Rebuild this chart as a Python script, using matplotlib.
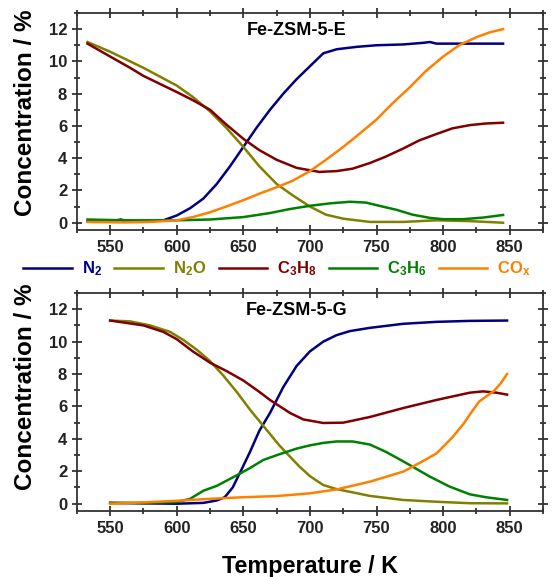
import matplotlib
matplotlib.use('Agg')
import matplotlib.pyplot as plt
from matplotlib.ticker import MultipleLocator

plt.rcParams['font.family'] = 'Liberation Sans'
plt.rcParams['font.weight'] = 'bold'
plt.rcParams['mathtext.fontset'] = 'custom'
plt.rcParams['mathtext.rm'] = 'Liberation Sans:bold'
plt.rcParams['mathtext.bf'] = 'Liberation Sans:bold'
plt.rcParams['mathtext.default'] = 'bf'

# ---- Fe-ZSM-5-E (top panel) ----
e_n2_T = [533, 545, 555, 558, 562, 580, 590, 600, 610, 620, 630, 640, 650, 660, 670, 680, 690, 700,
          710, 720, 735, 750, 770, 785, 790, 795, 810, 830, 845]
e_n2 = [0.1, 0.1, 0.15, 0.2, 0.1, 0.1, 0.15, 0.45, 0.9, 1.5, 2.4, 3.5, 4.7, 5.9, 7.0, 8.0, 8.9, 9.7,
        10.5, 10.75, 10.9, 11.0, 11.05, 11.15, 11.2, 11.1, 11.1, 11.1, 11.1]

e_n2o_T = [533, 550, 575, 600, 612, 625, 637, 650, 662, 675, 687, 700, 712, 725, 745, 770, 795, 820, 845]
e_n2o = [11.2, 10.6, 9.6, 8.5, 7.8, 6.9, 5.9, 4.7, 3.5, 2.4, 1.7, 1.0, 0.5, 0.25, 0.05, 0.05, 0.15, 0.1, 0.0]

e_c3h8_T = [533, 550, 565, 575, 590, 600, 612, 625, 637, 650, 662, 675, 690, 707, 720, 732, 745, 757,
            770, 782, 795, 807, 820, 832, 845]
e_c3h8 = [11.1, 10.3, 9.6, 9.1, 8.5, 8.1, 7.6, 7.0, 6.1, 5.2, 4.5, 3.9, 3.4, 3.15, 3.2, 3.35, 3.7, 4.1,
          4.6, 5.1, 5.5, 5.85, 6.05, 6.15, 6.2]

e_c3h6_T = [533, 560, 600, 625, 650, 670, 685, 700, 715, 730, 742, 752, 765, 777, 790, 800, 815, 830, 845]
e_c3h6 = [0.2, 0.15, 0.15, 0.2, 0.35, 0.6, 0.85, 1.05, 1.2, 1.3, 1.25, 1.05, 0.8, 0.5, 0.3, 0.22, 0.22, 0.32, 0.48]

e_cox_T = [533, 560, 580, 600, 612, 625, 637, 650, 662, 675, 687, 700, 712, 725, 737, 750, 762, 775,
           787, 800, 812, 825, 835, 845]
e_cox = [0.05, 0.02, 0.05, 0.15, 0.35, 0.65, 1.0, 1.4, 1.8, 2.2, 2.6, 3.2, 3.9, 4.7, 5.5, 6.4, 7.4, 8.4,
         9.4, 10.3, 11.0, 11.5, 11.8, 12.0]

# ---- Fe-ZSM-5-G (bottom panel) ----
g_n2_T = [550, 575, 600, 620, 630, 636, 642, 648, 655, 662, 670, 680, 690, 700, 710, 720, 730, 745,
          770, 795, 820, 848]
g_n2 = [0.05, 0.02, 0.0, 0.05, 0.2, 0.4, 1.0, 2.0, 3.2, 4.5, 5.6, 7.2, 8.5, 9.4, 10.0, 10.4, 10.65, 10.85,
        11.1, 11.22, 11.28, 11.3]

g_n2o_T = [550, 565, 580, 595, 605, 615, 625, 635, 645, 655, 665, 677, 685, 692, 700, 710, 720, 732,
           745, 770, 795, 820, 848]
g_n2o = [11.3, 11.25, 11.0, 10.6, 10.1, 9.5, 8.8, 7.9, 6.9, 5.8, 4.8, 3.6, 2.9, 2.3, 1.7, 1.15, 0.9, 0.7,
         0.48, 0.23, 0.12, 0.03, 0.02]

g_c3h8_T = [550, 575, 590, 600, 612, 625, 637, 650, 662, 670, 685, 695, 710, 725, 745, 770, 795, 820,
            830, 840, 848]
g_c3h8 = [11.3, 11.0, 10.6, 10.15, 9.4, 8.7, 8.2, 7.6, 6.9, 6.4, 5.6, 5.2, 4.98, 5.0, 5.35, 5.9, 6.4, 6.85,
          6.93, 6.85, 6.73]

g_c3h6_T = [550, 575, 600, 610, 620, 630, 645, 655, 665, 677, 690, 700, 710, 720, 732, 745, 757, 767,
            775, 790, 805, 820, 832, 848]
g_c3h6 = [0.05, 0.05, 0.1, 0.3, 0.8, 1.1, 1.75, 2.2, 2.7, 3.05, 3.4, 3.6, 3.75, 3.84, 3.84, 3.65, 3.2, 2.75,
          2.38, 1.67, 1.05, 0.58, 0.4, 0.23]

g_cox_T = [550, 575, 600, 625, 650, 675, 700, 720, 745, 770, 782, 795, 807, 815, 820, 827, 832, 838, 843, 848]
g_cox = [0.0, 0.08, 0.18, 0.3, 0.4, 0.47, 0.64, 0.88, 1.36, 1.98, 2.5, 3.1, 4.1, 4.9, 5.5, 6.3, 6.6, 6.95, 7.4, 8.0]

labels = ['N$_2$', 'N$_2$O', 'C$_3$H$_8$', 'C$_3$H$_6$', 'CO$_x$']
colors = ['#000080', '#808000', '#800000', '#008000', '#ff8000']

panels = [
    ('Fe-ZSM-5-E', [(e_n2_T, e_n2), (e_n2o_T, e_n2o), (e_c3h8_T, e_c3h8), (e_c3h6_T, e_c3h6), (e_cox_T, e_cox)]),
    ('Fe-ZSM-5-G', [(g_n2_T, g_n2), (g_n2o_T, g_n2o), (g_c3h8_T, g_c3h8), (g_c3h6_T, g_c3h6), (g_cox_T, g_cox)]),
]

fig = plt.figure(figsize=(5.53, 5.77), dpi=100)
rects = [[0.139, 0.6014, 0.843, 0.3761], [0.139, 0.1144, 0.843, 0.3778]]
ylabel_y = [0.539, 0.569]  # labels sit a bit above the panel centres in the original

for (name, series), rect, ly in zip(panels, rects, ylabel_y):
    ax = fig.add_axes(rect)
    for (T, c), lab, col in zip(series, labels, colors):
        ax.plot(T, c, color=col, lw=1.8, label=lab)
    ax.set_xlim(525, 875)
    ax.set_ylim(-0.45, 13)
    ax.xaxis.set_major_locator(MultipleLocator(50))
    ax.xaxis.set_minor_locator(MultipleLocator(25))
    ax.yaxis.set_major_locator(MultipleLocator(2))
    ax.yaxis.set_minor_locator(MultipleLocator(1))
    ax.set_xticks([550, 600, 650, 700, 750, 800, 850])
    ax.tick_params(which='both', direction='inout', top=True, right=True, width=1.2,
                   labelsize=12, colors='#222222')
    ax.tick_params(which='major', length=7)
    ax.tick_params(which='minor', length=4)
    for lbl in ax.get_xticklabels() + ax.get_yticklabels():
        lbl.set_fontweight('bold')
    for s in ax.spines.values():
        s.set_linewidth(1.3)
        s.set_color('#333333')
    ax.set_ylabel('Concentration / %', fontsize=17.5, fontweight='bold')
    ax.yaxis.set_label_coords(-0.086, ly)
    ax.text(0.472, 0.92, name, transform=ax.transAxes, ha='center', va='center',
            fontsize=13, fontweight='bold')
    if name.endswith('G'):
        ax.set_xlabel('Temperature / K', fontsize=16.8, fontweight='bold', labelpad=14)
    else:
        handles, hl = ax.get_legend_handles_labels()

leg = fig.legend(handles, hl, loc='center', bbox_to_anchor=(0.501, 0.534), ncol=5, frameon=False,
                 fontsize=12, handlelength=2.9, handletextpad=0.6, columnspacing=0.75,
                 labelcolor='linecolor', borderaxespad=0)

fig.savefig('out.png', dpi=100)
